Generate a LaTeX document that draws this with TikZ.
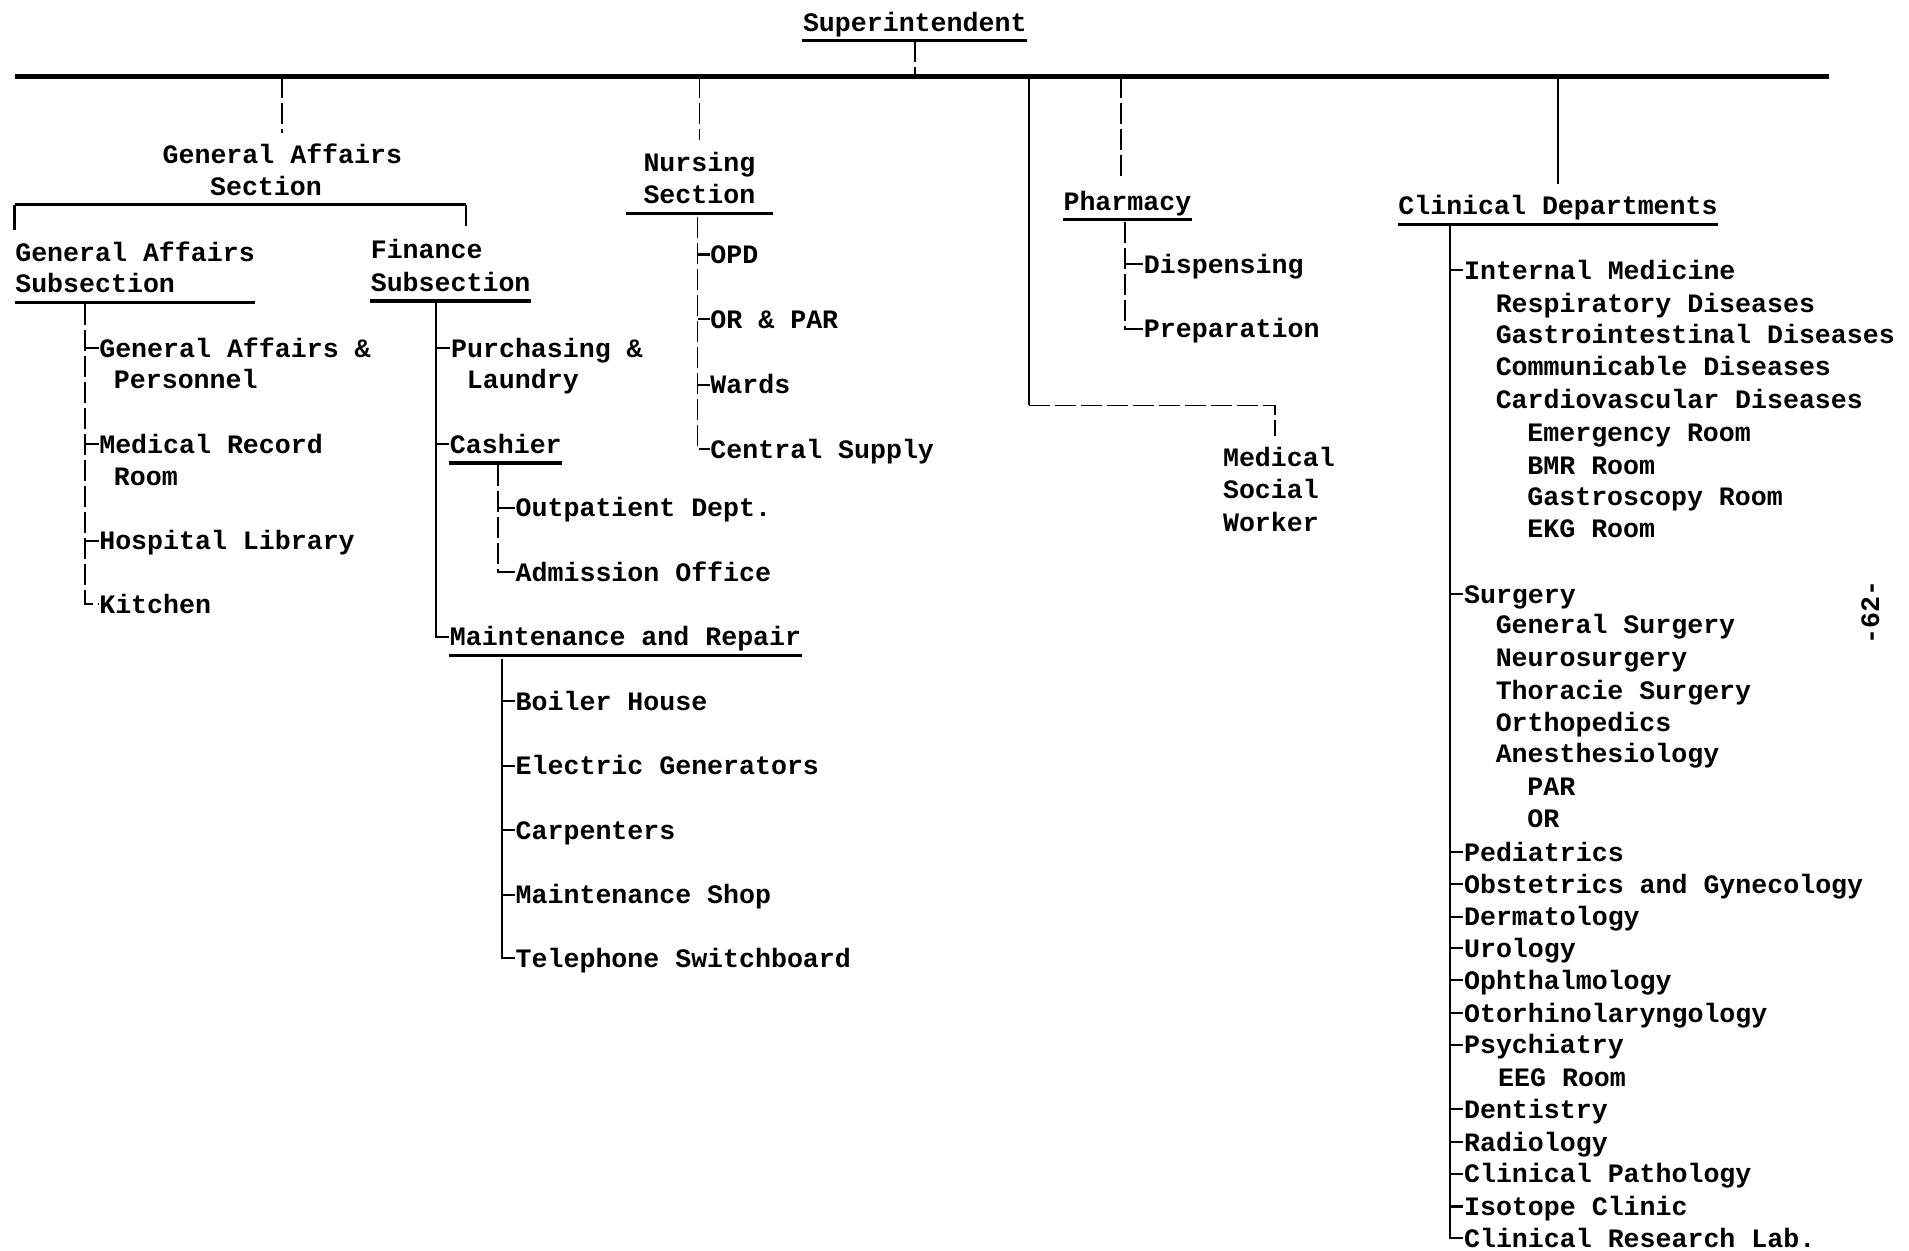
\documentclass[tikz,border=0pt]{standalone}
\usepackage{fontspec}
\newfontfamily\tw{Liberation Mono}
\tikzset{
  lbl/.style={font={\tw\bfseries\fontsize{7.57pt}{9.1pt}\selectfont}, inner sep=0pt, anchor=west, text height=6.1pt, text depth=0.9pt},
  bus/.style={line width=1.3pt},
  uline/.style={line width=0.9pt},
  link/.style={line width=0.6pt},
  dlink/.style={line width=0.5pt, dash pattern=on 6pt off 1.4pt},
}
\begin{document}
\begin{tikzpicture}[x=0.012175cm, y=-0.012175cm]
    \fill[white] (0,0) rectangle (1568,1027);

    \node[lbl] (sup) at (659,18) {Superintendent};
    \coordinate (busL) at (12,63);
    \coordinate (busR) at (1502,63);
    \draw[bus] (busL) -- (busR);
    \draw[uline] ([yshift=-1.6pt]sup.south west) -- ([yshift=-1.6pt]sup.south east);
    \draw[dlink] ([yshift=-1.6pt]sup.south) -- (sup.south |- busL);

    \node[lbl] (gasec) at (133,127) {General Affairs};
    \node[lbl] (gasec2) at (172,153) {Section};
    \coordinate (gasecin) at ([yshift=2.5pt]gasec.north);
    \draw[dlink] (gasecin |- busL) -- (gasecin);
    \coordinate (gabarL) at (12,168);
    \coordinate (gabarR) at (383,168);
    \draw[uline] (gabarL) -- (gabarR);

    \node[lbl] (gasub) at (12,207) {General Affairs};
    \node[lbl] (gasub2) at (12,233) {Subsection};
    \draw[uline] ([yshift=-1.6pt]gasub2.south west) -- ([yshift=-1.6pt]gasub2.south west -| gasub.east);
    \draw[uline] (gabarL) -- ([yshift=2.5pt]gasub.north west);

    \node[lbl] (fin) at (304,205) {Finance};
    \node[lbl] (fin2) at (304,232) {Subsection};
    \coordinate (finin) at ([yshift=2.5pt]fin.north);
    \draw[uline] ([yshift=-1.6pt]fin2.south west) -- ([yshift=-1.6pt]fin2.south east);
    \draw[dlink] (gabarR) -- (gabarR |- finin);

    \node[lbl] (gap) at (81,286) {General Affairs \&};
    \node[lbl] (gap2) at (93,312) {Personnel};
    \node[lbl] (mrr) at (81,365) {Medical Record};
    \node[lbl] (mrr2) at (93,391) {Room};
    \node[lbl] (hlib) at (81,444) {Hospital Library};
    \node[lbl] (kitch) at (81,496) {Kitchen};
    \coordinate (gasp) at (70,250);
    \draw[dlink] (gasp) |- (kitch.west);
    \draw[link] (gasp |- gap.west) -- (gap.west);
    \draw[link] (gasp |- mrr.west) -- (mrr.west);
    \draw[link] (gasp |- hlib.west) -- (hlib.west);

    \node[lbl] (purch) at (370,286) {Purchasing \&};
    \node[lbl] (purch2) at (383,312) {Laundry};
    \node[lbl] (cash) at (369,365) {Cashier};
    \node[lbl] (opd) at (423,417) {Outpatient Dept.};
    \node[lbl] (adm) at (423,470) {Admission Office};
    \node[lbl] (maint) at (369,523) {Maintenance and Repair};
    \node[lbl] (boil) at (423,576) {Boiler House};
    \node[lbl] (elec) at (423,629) {Electric Generators};
    \node[lbl] (carp) at (423,682) {Carpenters};
    \node[lbl] (mshop) at (423,735) {Maintenance Shop};
    \node[lbl] (tel) at (423,787) {Telephone Switchboard};
    \draw[uline] ([yshift=-1.6pt]cash.south west) -- ([yshift=-1.6pt]cash.south east);
    \draw[uline] ([yshift=-1.6pt]maint.south west) -- ([yshift=-1.6pt]maint.south east);

    \coordinate (finsp) at (358,248);
    \draw[link] (finsp) |- (maint.west);
    \draw[link] (finsp |- purch.west) -- (purch.west);
    \draw[link] (finsp |- cash.west) -- (cash.west);
    \coordinate (cashsp) at (409,382);
    \draw[dlink] (cashsp) |- (adm.west);
    \draw[link] (cashsp |- opd.west) -- (opd.west);
    \coordinate (maintsp) at (412,541);
    \draw[link] (maintsp) |- (tel.west);
    \draw[link] (maintsp |- boil.west) -- (boil.west);
    \draw[link] (maintsp |- elec.west) -- (elec.west);
    \draw[link] (maintsp |- carp.west) -- (carp.west);
    \draw[link] (maintsp |- mshop.west) -- (mshop.west);

    \node[lbl] (nurs) at (528,133) {Nursing};
    \node[lbl] (nurs2) at (528,160) {Section};
    \coordinate (nursin) at ([yshift=2.5pt]nurs.north);
    \draw[dlink] (nursin |- busL) -- (nursin);
    \draw[uline] ([xshift=-4.8pt,yshift=-1.6pt]nurs2.south west) -- ([xshift=4.8pt,yshift=-1.6pt]nurs2.south east);
    \node[lbl] (opdn) at (583,209) {OPD};
    \node[lbl] (orpar) at (583,262) {OR \& PAR};
    \node[lbl] (wards) at (583,316) {Wards};
    \node[lbl] (csup) at (583,369) {Central Supply};
    \coordinate (nurssp) at (573,178);
    \draw[dlink] (nurssp) |- (csup.west);
    \draw[link] (nurssp |- opdn.west) -- (opdn.west);
    \draw[link] (nurssp |- orpar.west) -- (orpar.west);
    \draw[link] (nurssp |- wards.west) -- (wards.west);

    \node[lbl] (pharm) at (873,165) {Pharmacy};
    \coordinate (pharmin) at ([xshift=-1.8pt,yshift=2.5pt]pharm.north);
    \draw[dlink] (pharmin |- busL) -- (pharmin);
    \draw[uline] ([yshift=-1.6pt]pharm.south west) -- ([yshift=-1.6pt]pharm.south east);
    \node[lbl] (disp) at (939,217) {Dispensing};
    \node[lbl] (prep) at (939,270) {Preparation};
    \coordinate (pharmsp) at (924,182);
    \draw[dlink] (pharmsp) |- (prep.west);
    \draw[link] (pharmsp |- disp.west) -- (disp.west);

    \node[lbl] (msw) at (1004,376) {Medical};
    \node[lbl] (msw2) at (1004,402) {Social};
    \node[lbl] (msw3) at (1004,429) {Worker};
    \coordinate (mswbend) at (845,333);
    \coordinate (mswin) at ([xshift=-1.2pt,yshift=2.5pt]msw.north);
    \draw[link] (mswbend |- busL) -- (mswbend);
    \draw[dlink] (mswbend) -| (mswin);

    \node[lbl] (clin) at (1148,169) {Clinical Departments};
    \coordinate (clinin) at ([yshift=2.5pt]clin.north);
    \draw[link] (clinin |- busL) -- (clinin);
    \draw[uline] ([yshift=-1.6pt]clin.south west) -- ([yshift=-1.6pt]clin.south east);

    \node[lbl] (intmed) at (1202,222) {Internal Medicine};
    \node[lbl] (resp) at (1228,249) {Respiratory Diseases};
    \node[lbl] (gastro) at (1228,275) {Gastrointestinal Diseases};
    \node[lbl] (comm) at (1228,301) {Communicable Diseases};
    \node[lbl] (cardio) at (1228,328) {Cardiovascular Diseases};
    \node[lbl] (emerg) at (1254,355) {Emergency Room};
    \node[lbl] (bmr) at (1254,382) {BMR Room};
    \node[lbl] (gscope) at (1254,408) {Gastroscopy Room};
    \node[lbl] (ekg) at (1254,434) {EKG Room};
    \node[lbl] (surg) at (1202,488) {Surgery};
    \node[lbl] (gsurg) at (1228,513) {General Surgery};
    \node[lbl] (neuro) at (1228,540) {Neurosurgery};
    \node[lbl] (thor) at (1228,567) {Thoracie Surgery};
    \node[lbl] (ortho) at (1228,593) {Orthopedics};
    \node[lbl] (anest) at (1228,619) {Anesthesiology};
    \node[lbl] (par) at (1254,646) {PAR};
    \node[lbl] (orr) at (1254,672) {OR};
    \node[lbl] (ped) at (1202,700) {Pediatrics};
    \node[lbl] (obgyn) at (1202,726) {Obstetrics and Gynecology};
    \node[lbl] (derm) at (1202,753) {Dermatology};
    \node[lbl] (uro) at (1202,779) {Urology};
    \node[lbl] (ophth) at (1202,805) {Ophthalmology};
    \node[lbl] (ent) at (1202,832) {Otorhinolaryngology};
    \node[lbl] (psych) at (1202,858) {Psychiatry};
    \node[lbl] (eeg) at (1230,885) {EEG Room};
    \node[lbl] (dent) at (1202,911) {Dentistry};
    \node[lbl] (rad) at (1202,938) {Radiology};
    \node[lbl] (cpath) at (1202,964) {Clinical Pathology};
    \node[lbl] (iso) at (1202,991) {Isotope Clinic};
    \node[lbl] (crlab) at (1202,1017) {Clinical Research Lab.};

    \coordinate (clinsp) at (1191,186);
    \draw[link] (clinsp) |- (crlab.west);
    \draw[link] (clinsp |- intmed.west) -- (intmed.west);
    \draw[link] (clinsp |- surg.west) -- (surg.west);
    \draw[link] (clinsp |- ped.west) -- (ped.west);
    \draw[link] (clinsp |- obgyn.west) -- (obgyn.west);
    \draw[link] (clinsp |- derm.west) -- (derm.west);
    \draw[link] (clinsp |- uro.west) -- (uro.west);
    \draw[link] (clinsp |- ophth.west) -- (ophth.west);
    \draw[link] (clinsp |- ent.west) -- (ent.west);
    \draw[link] (clinsp |- psych.west) -- (psych.west);
    \draw[link] (clinsp |- dent.west) -- (dent.west);
    \draw[link] (clinsp |- rad.west) -- (rad.west);
    \draw[link] (clinsp |- cpath.west) -- (cpath.west);
    \draw[link] (clinsp |- iso.west) -- (iso.west);

    \node[lbl, anchor=center, rotate=90] (pgno) at (1536,503) {-62-};
\end{tikzpicture}
\end{document}
